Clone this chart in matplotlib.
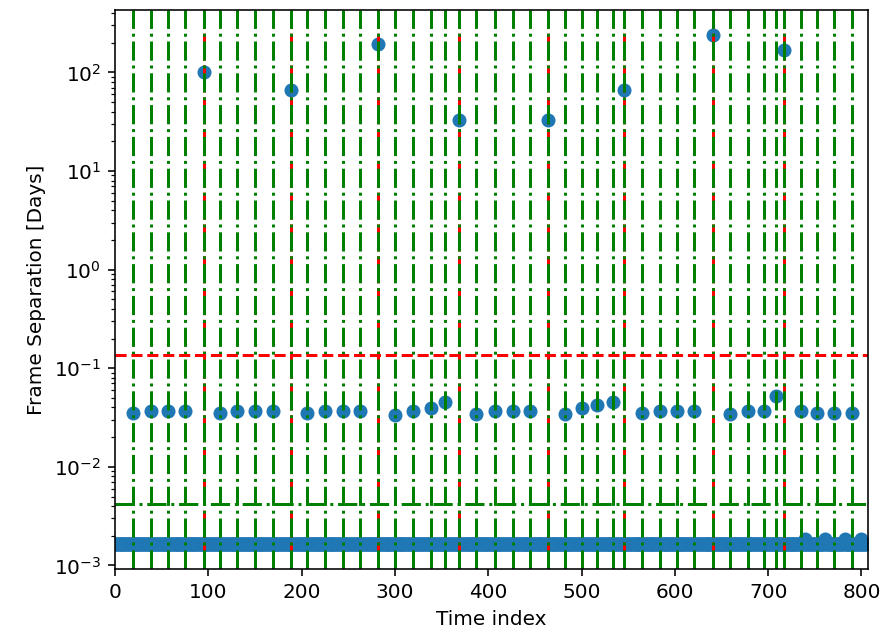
import numpy as np
import matplotlib
matplotlib.use("Agg")
import matplotlib.pyplot as plt

# Data
n_frames = 806
base_sep = 1.667e-3
bump_idx = [740, 761, 782, 800]
bump_val = [1.86e-3, 1.86e-3, 1.86e-3, 1.86e-3]

mid_idx = [19, 39, 57, 75, 113, 131, 150, 169, 206, 225, 244, 263, 300, 319,
           339, 354, 387, 407, 426, 445, 482, 500, 517, 534, 565, 584, 602,
           621, 659, 678, 696, 708, 735, 752, 771, 790]
mid_val = [0.035, 0.037, 0.037, 0.037, 0.0354, 0.037, 0.037, 0.037, 0.0351,
           0.037, 0.037, 0.037, 0.0335, 0.037, 0.0397, 0.0456, 0.0343, 0.0365,
           0.037, 0.037, 0.0343, 0.0397, 0.0425, 0.0456, 0.0354, 0.0365, 0.037,
           0.0365, 0.0343, 0.0365, 0.0365, 0.0521, 0.0365, 0.0354, 0.0354,
           0.0354]

big_idx = [95, 189, 282, 369, 464, 546, 641, 717]
big_val = [100, 65.8, 196, 32.7, 32.7, 65.8, 237, 167]

low_thresh = 4.2e-3
high_thresh = 0.135

sep = np.full(n_frames, base_sep)
sep[bump_idx] = bump_val
sep[mid_idx] = mid_val
sep[big_idx] = big_val

fig = plt.figure(figsize=(886 / 144, 637 / 144), dpi=144)
ax = fig.add_axes([0.1298, 0.1068, 0.9797 - 0.1298, 0.9843 - 0.1068])

ax.plot(np.arange(n_frames), sep, 'o')
ax.set_yscale('log')

for i in np.where(sep > high_thresh)[0]:
    ax.axvline(i, color='r', linestyle='--')
for i in np.where(sep > low_thresh)[0]:
    ax.axvline(i, color='g', linestyle='-.')

ax.axhline(high_thresh, color='r', linestyle='--')
ax.axhline(low_thresh, color='g', linestyle='-.')

ax.set_xlim(0, 807)
ax.set_xlabel('Time index')
ax.set_ylabel('Frame Separation [Days]')

fig.savefig('out.png', dpi=144)
